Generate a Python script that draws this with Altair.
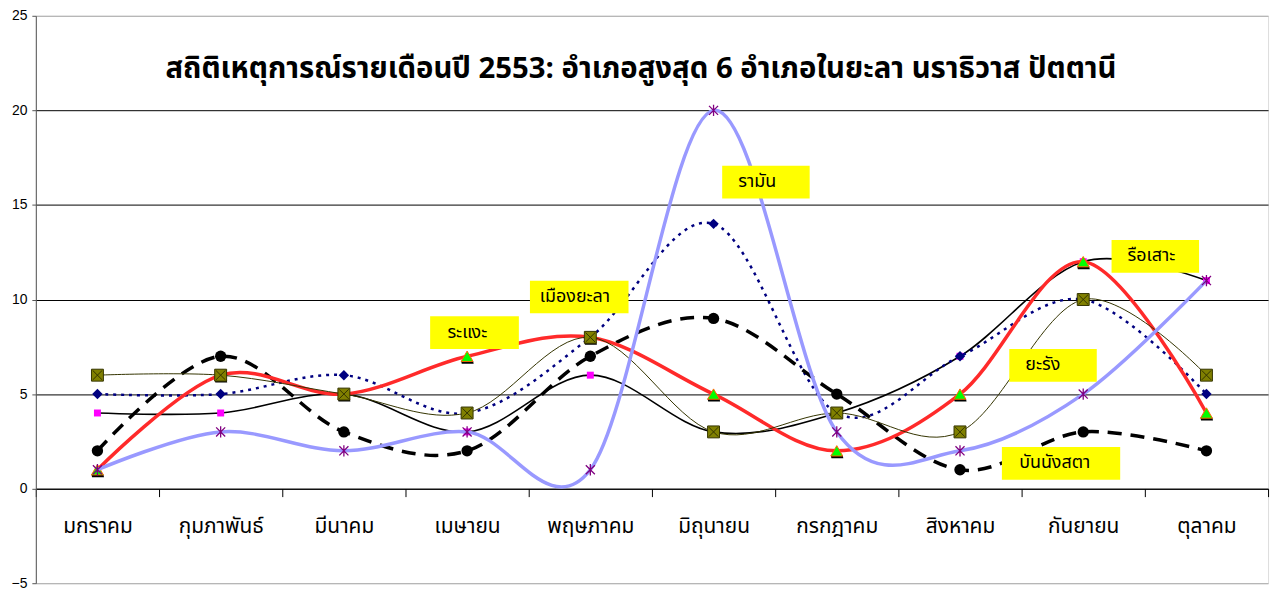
import json
import altair as alt
import pandas as pd

# ---------------- data ----------------
months = ["มกราคม", "กุมภาพันธ์", "มีนาคม", "เมษายน", "พฤษภาคม",
          "มิถุนายน", "กรกฎาคม", "สิงหาคม", "กันยายน", "ตุลาคม"]

rueso = [4, 4, 5, 3, 6, 3, 4, 7, 12, 11]
mueang_yala = [5, 5, 6, 4, 8, 14, 4, 7, 10, 5]
bannang_sata = [2, 7, 3, 2, 7, 9, 5, 1, 3, 2]
ra_ngae = [1, 6, 5, 7, 8, 5, 2, 5, 12, 4]
yarang = [6, 6, 5, 4, 8, 3, 4, 3, 10, 6]
raman = [1, 3, 2, 3, 1, 20, 3, 2, 5, 11]

series_names = ["รือเสาะ", "เมืองยะลา", "บันนังสตา", "ระแงะ", "ยะรัง", "รามัน"]
series_values = [rueso, mueang_yala, bannang_sata, ra_ngae, yarang, raman]

title_text = "สถิติเหตุการณ์รายเดือนปี 2553: อำเภอสูงสุด 6 อำเภอในยะลา นราธิวาส ปัตตานี"
y_ticks = [-5, 0, 5, 10, 15, 20, 25]

# annotation labels (text) and their box placement (layout, in axis units)
ann_labels = ["รามัน", "รือเสาะ", "ระแงะ", "เมืองยะลา", "ยะรัง", "บันนังสตา"]
ann_x0 = [5.07, 8.23, 2.70, 3.51, 7.40, 7.34]
ann_x1 = [5.78, 8.94, 3.42, 4.31, 8.11, 8.30]
ann_y0 = [15.34, 11.41, 7.38, 9.27, 5.65, 0.47]
ann_y1 = [17.07, 13.14, 9.11, 10.99, 7.38, 2.20]
ann_tx = [5.20, 8.36, 2.84, 3.59, 7.53, 7.48]

# ---------------- styles ----------------
FONT = "Tahoma, 'Noto Sans Thai', 'Liberation Sans', sans-serif"
STAR = "M0,-1L0,1M-0.8,-0.8L0.8,0.8M-0.8,0.8L0.8,-0.8"
XPATH = "M-0.8,-0.8L0.8,0.8M-0.8,0.8L0.8,-0.8"
TRI_SHADOW = "M-1,0.8L1,0.8L1.1,1.25L-0.9,1.25Z"

line_styles = {
    "รือเสาะ": dict(color="#000000", strokeWidth=1.6),
    "เมืองยะลา": dict(color="#000080", strokeWidth=2.5, strokeDash=[3, 5]),
    "บันนังสตา": dict(color="#000000", strokeWidth=3.5, strokeDash=[14, 9]),
    "ระแงะ": dict(color="#FF2A2A", strokeWidth=3.5),
    "ยะรัง": dict(color="#333300", strokeWidth=1),
    "รามัน": dict(color="#9999FF", strokeWidth=3.5),
}

rows = []
for name, vals in zip(series_names, series_values):
    for i, v in enumerate(vals):
        rows.append({"district": name, "m": i, "value": v})
df = pd.DataFrame(rows)

ann_df = pd.DataFrame({"label": ann_labels, "m": ann_x0, "x1": ann_x1,
                       "value": ann_y0, "y1": ann_y1, "tx": ann_tx,
                       "ty": [(a + b) / 2 for a, b in zip(ann_y0, ann_y1)]})

W, H = 1240, 571
xscale = alt.Scale(domain=[-0.5, 9.5], nice=False, zero=False)
yscale = alt.Scale(domain=[-5, 25], nice=False, zero=False)

months_js = json.dumps(months, ensure_ascii=False)
x_axis = alt.Axis(
    values=[i - 0.5 for i in range(11)],
    labelExpr=f"datum.value > 9 ? '' : {months_js}[round(datum.value + 0.5)]",
    labelOffset=62, labelFlush=False, labelOverlap=False, labelBound=False,
    offset=-H * 5 / 30, grid=False, title=None,
    tickSize=8, tickColor="#000", domainColor="#000", domainWidth=1,
    labelFont=FONT, labelFontSize=21, labelColor="#000", labelPadding=19,
)
y_axis = alt.Axis(
    values=y_ticks, title=None, grid=True,
    gridColor={"condition": {"test": "datum.value == 25 || datum.value == -5",
                             "value": "#aaaaaa"}, "value": "#000000"},
    gridWidth=1, tickSize=4, tickColor="#555", domainColor="#555",
    labelFont="Liberation Sans, Arial, sans-serif", labelFontSize=14,
    labelColor="#000", labelPadding=5,
)

X = alt.X("m:Q", scale=xscale, axis=x_axis, title=None)
Y = alt.Y("value:Q", scale=yscale, axis=y_axis, title=None)

base = alt.Chart(df)
layers = []


def pts(name, **kw):
    return base.transform_filter(alt.datum.district == name).mark_point(**kw).encode(x=X, y=Y)


for name in series_names:
    st = line_styles[name]
    layers.append(
        base.transform_filter(alt.datum.district == name)
        .mark_line(interpolate="cardinal", tension=0, **st)
        .encode(x=X, y=Y)
    )
    if name == "รือเสาะ":
        layers.append(pts(name, shape="square", size=49, filled=True, color="#FF00FF", opacity=1))
    elif name == "เมืองยะลา":
        layers.append(pts(name, shape="diamond", size=110, filled=True, color="#000080", opacity=1))
    elif name == "บันนังสตา":
        layers.append(pts(name, shape="circle", size=130, filled=True, color="#000000", opacity=1))
    elif name == "ระแงะ":
        layers.append(pts(name, shape=TRI_SHADOW, size=144, filled=True, color="#000000", opacity=1))
        layers.append(pts(name, shape="triangle-up", size=144, filled=True, fill="#00FF00",
                          stroke="#FF6600", strokeWidth=1, opacity=1))
    elif name == "ยะรัง":
        layers.append(pts(name, shape="square", size=144, filled=True, fill="#808000",
                          stroke="#333300", strokeWidth=1, opacity=1))
        layers.append(pts(name, shape=XPATH, size=144, filled=False, color="#333300",
                          strokeWidth=1, opacity=1))
    elif name == "รามัน":
        layers.append(pts(name, shape=STAR, size=130, filled=False, color="#800080",
                          strokeWidth=1.3, opacity=1))

ann = alt.Chart(ann_df)
layers.append(ann.mark_rect(color="#FFFF00").encode(
    x=X, x2="x1:Q", y=Y, y2="y1:Q"))
layers.append(ann.mark_text(font=FONT, fontSize=18, align="left", baseline="middle",
                            color="#000").encode(
    x=alt.X("tx:Q", scale=xscale, axis=x_axis, title=None),
    y=alt.Y("ty:Q", scale=yscale, axis=y_axis, title=None),
    text="label:N"))

title_layer = alt.Chart(pd.DataFrame({"t": [title_text]})).mark_text(
    font=FONT, fontSize=29.5, fontWeight="bold", align="center", baseline="middle",
    color="#000").encode(x=alt.value(609), y=alt.value(54), text="t:N")
layers.append(title_layer)

chart = alt.layer(*layers).properties(
    width=W, height=H,
    autosize=alt.AutoSizeParams(type="none"),
    padding={"left": 28, "top": 6, "right": 9, "bottom": 9},
).configure_view(stroke="#999999", strokeWidth=1).configure(background="white")

chart.save("out.html", embed_options={"renderer": "svg", "actions": False})
